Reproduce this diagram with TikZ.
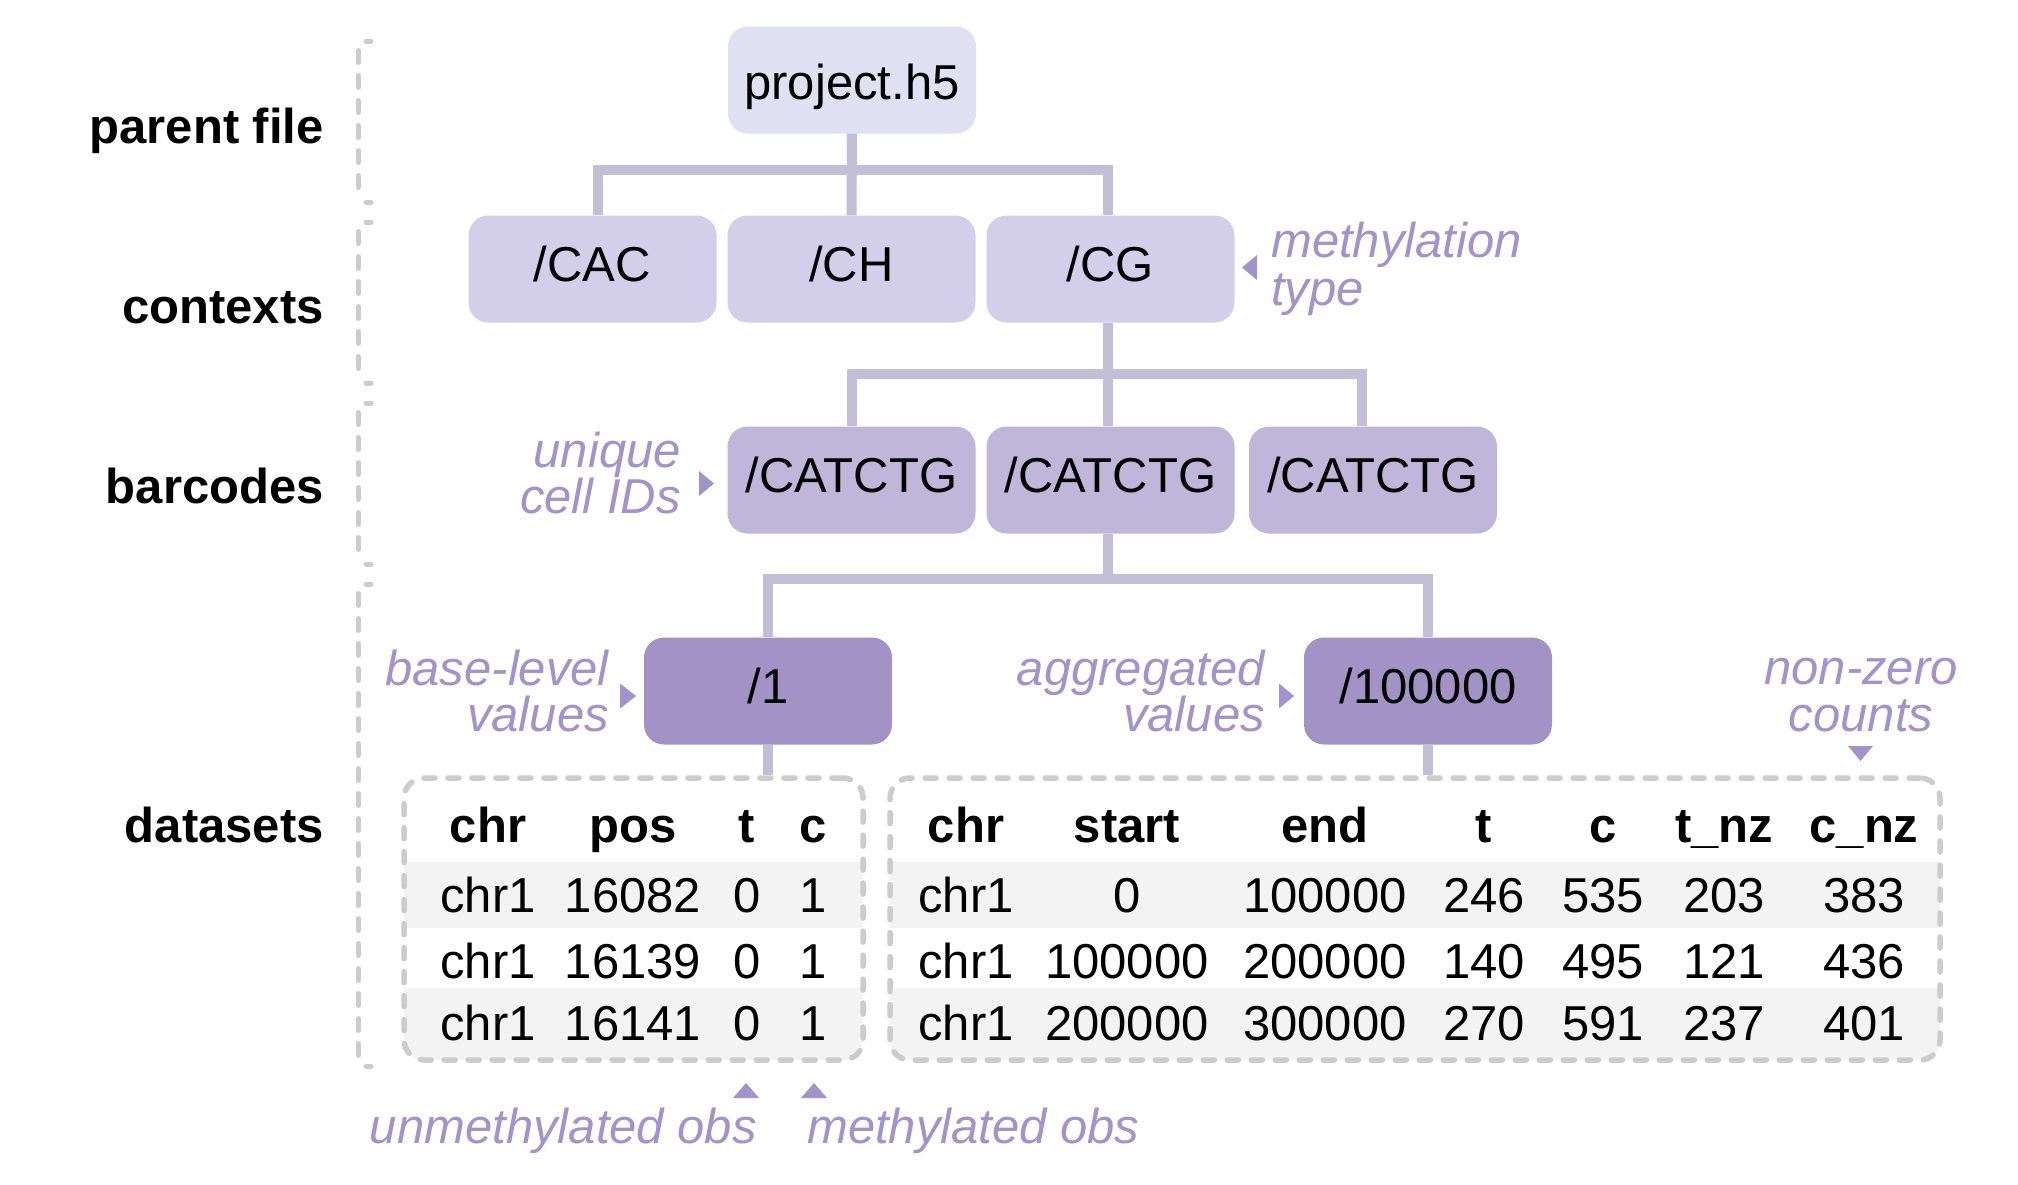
\documentclass[tikz,border=0pt]{standalone}
\usepackage{fontspec}
\setmainfont{Liberation Sans}
\definecolor{conn}{HTML}{C1BED5}
\definecolor{pfc}{HTML}{E1DFF2}
\definecolor{ctxc}{HTML}{D3CEEA}
\definecolor{bcc}{HTML}{C0B6DA}
\definecolor{dsc}{HTML}{A292C6}
\definecolor{purt}{HTML}{A393C8}
\definecolor{dashc}{HTML}{CCCCCC}
\definecolor{rowc}{HTML}{F3F3F3}
\begin{document}
\begin{tikzpicture}[x=1pt,y=-1pt,
  every node/.style={font=\fontsize{49pt}{49pt}\selectfont, inner sep=0pt},
  box/.style={rounded corners=20pt, minimum width=248pt, minimum height=107pt, text height=25pt, text depth=0pt},
  connline/.style={draw=conn, line width=10pt, line join=miter},
  lbl/.style={anchor=base east, font=\fontsize{49pt}{49pt}\selectfont\bfseries},
  ann/.style={text=purt, font=\fontsize{49pt}{49pt}\selectfont\itshape},
  tri/.style={fill=purt},
  brk/.style={draw=dashc, line width=5pt, line cap=round},
  brkd/.style={brk, dash pattern=on 12pt off 13pt},
  tbl/.style={draw=dashc, line width=5.5pt, line cap=round, dash pattern=on 11pt off 13pt, rounded corners=20pt},
  hdr/.style={anchor=base, font=\fontsize{49pt}{49pt}\selectfont\bfseries},
  cell/.style={anchor=base}]
\fill[white] (0,0) rectangle (2018,1184);
\useasboundingbox (0,0) rectangle (2018,1184);

% brackets
\foreach \a/\b in {41/202,222/383,403/564,584/1066} {
  \draw[brk] (366,\a) -- (371,\a);
  \draw[brkd] (358,\a+9.5) -- (358,\b-9.5);
  \draw[brk] (366,\b) -- (371,\b);
}

% level labels
\node[lbl] (lpf) at (324,143) {parent file};
\node[lbl] (lctx) at (324,323) {contexts};
\node[lbl] (lbc) at (324,503) {barcodes};
\node[lbl] (lds) at (324,842) {datasets};

% table shading
\begin{scope}
  \clip[rounded corners=20pt] (404,778) rectangle (863,1060);
  \fill[rowc] (404,862) rectangle (863,928);
  \fill[rowc] (404,988) rectangle (863,1060);
\end{scope}
\begin{scope}
  \clip[rounded corners=20pt] (890,778) rectangle (1940,1060);
  \fill[rowc] (890,862) rectangle (1940,928);
  \fill[rowc] (890,988) rectangle (1940,1060);
\end{scope}
\node[tbl, minimum width=459pt, minimum height=282pt] (lt) at (633.5,919) {};
\node[tbl, minimum width=1050pt, minimum height=282pt] (rt) at (1415,919) {};

% tree boxes
\node[box, fill=pfc, text height=38pt] (pf) at (852,80) {project.h5};
\node[box, fill=ctxc] (cac) at (592.5,269) {/CAC};
\node[box, fill=ctxc] (ch) at (851.5,269) {/CH};
\node[box, fill=ctxc] (cg) at (1110.5,269) {/CG};
\node[box, fill=bcc] (bc1) at (851.5,480) {/CATCTG};
\node[box, fill=bcc] (bc2) at (1110.5,480) {/CATCTG};
\node[box, fill=bcc] (bc3) at (1373,480) {/CATCTG};
\node[box, fill=dsc] (ds1) at (768,691) {/1};
\node[box, fill=dsc] (ds2) at (1428,691) {/100000};

% connectors
\draw[connline] (pf.south) -- ++(0,36) -| ([xshift=5pt]cac.north);
\draw[connline] (pf.south) ++(0,36) -| ([xshift=-3pt]cg.north);
\draw[connline] (pf.south) -- (ch.north);
\draw[connline] ([xshift=-3pt]cg.south) -- ++(0,51.5) -| (bc1.north);
\draw[connline] ([xshift=-3pt]cg.south) ++(0,51.5) -| ([xshift=-11pt]bc3.north);
\draw[connline] ([xshift=-3pt]cg.south) -- ([xshift=-3pt]bc2.north);
\draw[connline] ([xshift=-3pt]bc2.south) -- ++(0,45.5) -| (ds1.north);
\draw[connline] ([xshift=-3pt]bc2.south) ++(0,45.5) -| (ds2.north);
\draw[connline] (ds1.south) -- (ds1.south |- lt.north);
\draw[connline] (ds2.south) -- (ds2.south |- rt.north);

% table headers
\foreach \x/\t [count=\i] in {488/chr,633/pos,747/t,813/c}
  \node[hdr] (lh\i) at (\x,842) {\t};
\foreach \x/\t [count=\i] in {966/chr,1127/start,1325/end,1484/t,1603/c,1724/t\_nz,1864/c\_nz}
  \node[hdr] (rh\i) at (\x,842) {\t};

% table rows
\foreach \yy/\r [count=\j] in {912/{chr1,16082,0,1},978/{chr1,16139,0,1},1040/{chr1,16141,0,1}} {
  \foreach \t [count=\i] in \r {
    \pgfmathsetmacro{\xx}{{488,633,747,813}[\i-1]}
    \node[cell] (l\j-\i) at (\xx,\yy) {\t};
  }
}
\foreach \yy/\r [count=\j] in {912/{chr1,0,100000,246,535,203,383},978/{chr1,100000,200000,140,495,121,436},1040/{chr1,200000,300000,270,591,237,401}} {
  \foreach \t [count=\i] in \r {
    \pgfmathsetmacro{\xx}{{966,1127,1325,1484,1603,1724,1864}[\i-1]}
    \node[cell] (r\j-\i) at (\xx,\yy) {\t};
  }
}

% annotations
\node[ann, anchor=base west] (mt1) at (1271,257) {methylation};
\node[ann, anchor=base west] (mt2) at (1271,305) {type};
\fill[tri] (1242,267.5) -- (1257,255) -- (1257,280) -- cycle;

\node[ann, anchor=base east] (uc1) at (681,467) {unique};
\node[ann, anchor=base east] (uc2) at (681,513) {cell IDs};
\fill[tri] (714,483.5) -- (699,471) -- (699,496) -- cycle;

\node[ann, anchor=base east] (bl1) at (609,685) {base-level};
\node[ann, anchor=base east] (bl2) at (609,731) {values};
\fill[tri] (636,696) -- (620,683.5) -- (620,708.5) -- cycle;

\node[ann, anchor=base east] (ag1) at (1265,685) {aggregated};
\node[ann, anchor=base east] (ag2) at (1265,731) {values};
\fill[tri] (1294,696) -- (1279,683.5) -- (1279,708.5) -- cycle;

\node[ann, anchor=base] (nz1) at (1861,684) {non-zero};
\node[ann, anchor=base] (nz2) at (1861,731) {counts};
\fill[tri] (1848,746) -- (1873,746) -- (1860.5,761) -- cycle;

\node[ann, anchor=base east] (um) at (757,1143) {unmethylated obs};
\fill[tri] (733,1098) -- (759,1098) -- (746,1083) -- cycle;
\node[ann, anchor=base west] (me) at (807,1143) {methylated obs};
\fill[tri] (801,1098) -- (827,1098) -- (814,1083) -- cycle;
\end{tikzpicture}
\end{document}
